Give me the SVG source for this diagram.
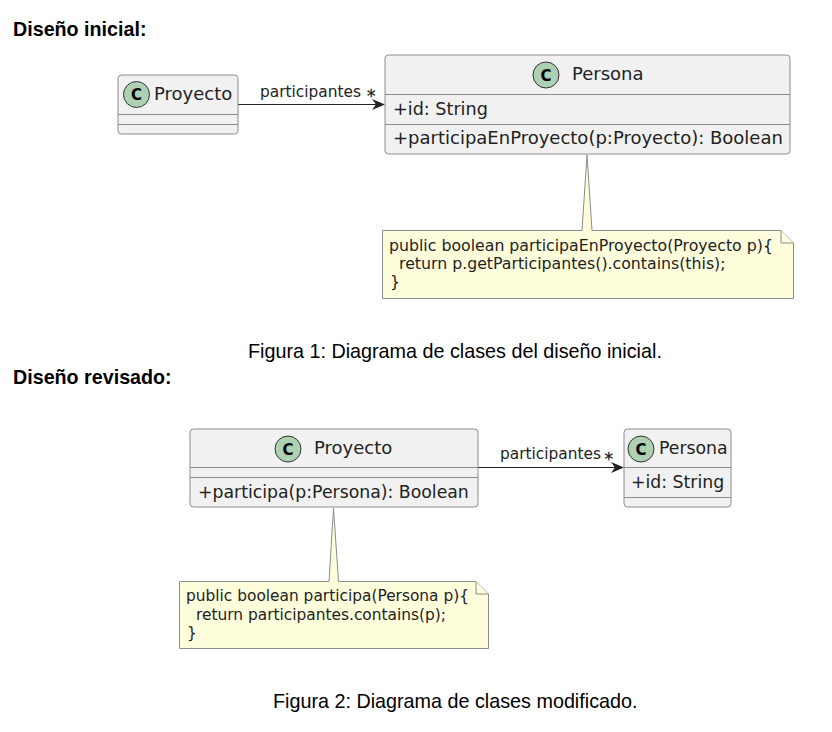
<svg xmlns="http://www.w3.org/2000/svg" width="832" height="732" viewBox="0 0 832 732">
<style>
.h{font:bold 19.7px "Liberation Sans",Arial,sans-serif;fill:#000}
.cap{font:19.75px "Liberation Sans",Arial,sans-serif;fill:#000}
.box{fill:#f1f1f1;stroke:#8c8c8c;stroke-width:1}
.sep{stroke:#8c8c8c;stroke-width:1;fill:none}
.t{font:18px "DejaVu Sans",sans-serif;fill:#222}
.t2{font:17.3px "DejaVu Sans",sans-serif;fill:#222}
.l{font:15.4px "DejaVu Sans",sans-serif;fill:#222}
.star{font:17px "DejaVu Sans",sans-serif;fill:#222;stroke:#222;stroke-width:.3}
.n1{font:15.75px "DejaVu Sans",sans-serif;fill:#222}
.n2{font:15.4px "DejaVu Sans",sans-serif;fill:#222}
.note{fill:#fefedd;stroke:#8c8c8c;stroke-width:1}
.ci{fill:#add1b2;stroke:#333;stroke-width:1}
.cc{font:bold 15px "DejaVu Sans",sans-serif;fill:#000;text-anchor:middle}
.ln{stroke:#222;stroke-width:1.2;fill:none}
.ah{fill:#222}
</style>
<text class="h" x="13" y="36">Diseño inicial:</text>
<text class="cap" x="248" y="358">Figura 1: Diagrama de clases del diseño inicial.</text>
<text class="h" x="13" y="384">Diseño revisado:</text>
<text class="cap" x="273" y="708">Figura 2: Diagrama de clases modificado.</text>
<g id="connectors">
<path class="ln" d="M238 104.500H378"/>
<path class="ah" d="M385 104.500L372 99L376 104.500L372 110Z"/>
<path class="ln" d="M478 467.500H617"/>
<path class="ah" d="M624 467.500L611 462L615 467.500L611 473Z"/>
<text class="l" x="260" y="97">participantes</text>
<text class="star" x="367" y="101.500">*</text>
<text class="l" x="500" y="459">participantes</text>
<text class="star" x="604.500" y="464.500">*</text>
</g>
<g id="c1-proyecto">
<rect class="box" x="118" y="75" width="120" height="59" rx="3.500"/>
<path class="sep" d="M118 114.500H238M118 124.500H238"/>
<circle class="ci" cx="136.500" cy="94.500" r="13"/>
<text class="cc" x="136.500" y="100">C</text>
<text class="t" x="154" y="100">Proyecto</text>
</g>
<g id="c1-persona">
<rect class="box" x="385" y="55" width="405" height="99" rx="3.500"/>
<path class="sep" d="M385 94.500H790M385 124.500H790"/>
<circle class="ci" cx="546" cy="75" r="13"/>
<text class="cc" x="546" y="80.500">C</text>
<text class="t" x="572" y="80">Persona</text>
<text class="t" x="393" y="115" style="font-size:17.6px">+id: String</text>
<text class="t" x="393" y="144">+participaEnProyecto(p:Proyecto): Boolean</text>
</g>
<g id="c1-note">
<path class="note" d="M382.500 230.500H582L587 155L592 230.500H781L793.500 243V298.500H382.500Z"/>
<path class="note" d="M781 230.500V243H793.500"/>
<text class="n1" x="389" y="251">public boolean participaEnProyecto(Proyecto p){</text>
<text class="n1" x="399" y="269">return p.getParticipantes().contains(this);</text>
<text class="n1" x="390" y="287">}</text>
</g>
<g id="c2-proyecto">
<rect class="box" x="190" y="429" width="288" height="78" rx="3.500"/>
<path class="sep" d="M190 467.500H478M190 477.500H478"/>
<circle class="ci" cx="288" cy="449" r="13"/>
<text class="cc" x="288" y="454.500">C</text>
<text class="t" x="314" y="454">Proyecto</text>
<text class="t2" x="198" y="498">+participa(p:Persona): Boolean</text>
</g>
<g id="c2-persona">
<rect class="box" x="624" y="429" width="107" height="78" rx="3.500"/>
<path class="sep" d="M624 467.500H731M624 497.500H731"/>
<circle class="ci" cx="641" cy="449" r="13"/>
<text class="cc" x="641" y="454.500">C</text>
<text class="t2" x="659" y="454">Persona</text>
<text class="t2" x="631" y="488">+id: String</text>
</g>
<g id="c2-note">
<path class="note" d="M179.500 581.500H329L333.500 508L338.500 581.500H476L488.500 594V648.500H179.500Z"/>
<path class="note" d="M476 581.500V594H488.500"/>
<text class="n2" x="186" y="601">public boolean participa(Persona p){</text>
<text class="n2" x="196" y="620">return participantes.contains(p);</text>
<text class="n2" x="187" y="638">}</text>
</g>
</svg>
